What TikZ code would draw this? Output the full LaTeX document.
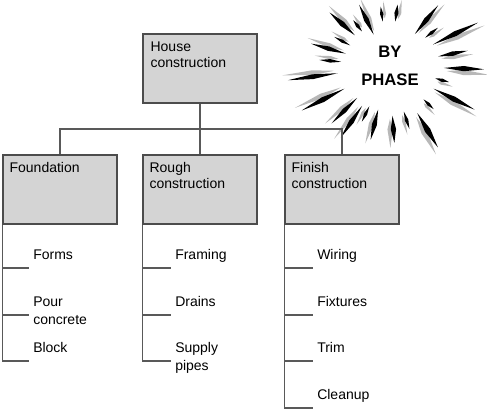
\documentclass[tikz,border=0pt]{standalone}
\usepackage{fontspec}
\setmainfont{Liberation Sans}
\newcommand{\twolines}[2]{\vtop{\hbox{#1}\hbox{#2}}}
\tikzset{
  wbsbox/.style={draw=black!70, fill=black!17, line width=1pt, minimum width=85.5pt, minimum height=51.75pt, inner sep=0pt},
  boxtext/.style={anchor=base west, inner sep=0pt, font=\fontsize{10.5}{12}\selectfont},
  leaf/.style={anchor=base west, inner sep=0pt, font=\fontsize{10.5}{13.5}\selectfont},
  link/.style={draw=black!65, line width=1.1pt},
  spike/.style={fill=black},
  spikeshade/.style={fill=black!28}
}
\begin{document}
\begin{tikzpicture}[x=0.75pt,y=-0.75pt]
	\useasboundingbox (0,0) rectangle (487,409);
	% Stella "BY PHASE"
	\coordinate (burst) at (389,66);
	\foreach \a/\ri/\ro/\w in {222/46/80/2.4, 244/35/68/2.8, 232/44/58/2, 262/45/60/1.8, 278/45/62/2.2,
		309/41/78/2.4, 322/46/62/1.8, 334/49/99/2, 349/50/80/2, 2/55/95/2, 15/48/62/1.8,
		27/50/96/2.1, 44/48/62/1.7, 59/55/95/2.3, 72/48/66/1.8, 86/50/77/2.4, 104/45/76/2.4,
		116/45/62/1.8, 124/48/86/2.1, 135/45/81/2.1, 153/50/98/2, 172/52/102/1.8, 185/48/70/1.7,
		196/45/81/2.1, 208/44/62/1.7} {
		\fill[spikeshade, shift={(burst)}] ({\a+3}:{\ri+3}) -- ({\a+3+\w}:{(\ri+\ro)/2}) -- ({\a+3}:{\ro+5}) -- ({\a+3-\w}:{(\ri+\ro)/2}) -- cycle;
		\fill[spike, shift={(burst)}] (\a:\ri) -- ({\a+\w}:{(\ri+\ro)/2}) -- (\a:\ro) -- ({\a-\w}:{(\ri+\ro)/2}) -- cycle;
	}
	\node[align=center, font=\fontsize{12.5}{21}\selectfont\bfseries] (phase) at (390,66) {BY\\PHASE};
	% Scatole
	\node[wbsbox] (house) at (200,68.5) {};
	\node[wbsbox] (fnd) at (60,189.5) {};
	\node[wbsbox] (rough) at (200,189.5) {};
	\node[wbsbox] (fin) at (342,189.5) {};
	\node[boxtext] (houset) at ([shift={(8,18.5)}]house.north west) {\twolines{House}{construction}};
	\node[boxtext] (fndt) at ([shift={(7,18.5)}]fnd.north west) {Foundation};
	\node[boxtext] (rought) at ([shift={(7,18.5)}]rough.north west) {\twolines{Rough}{construction}};
	\node[boxtext] (fint) at ([shift={(7,18.5)}]fin.north west) {\twolines{Finish}{construction}};
	% Collegamenti
	\coordinate (bus) at (200,129);
	\draw[link] (house.south) -- (rough.north);
	\draw[link] (fnd.north) |- (bus) -| (fin.north);
	% Foglie
	\node[leaf] (forms) at (33,260) {Forms};
	\node[leaf] (pour) at (33,307) {\twolines{Pour}{concrete}};
	\node[leaf] (block) at (33,353) {Block};
	\node[leaf] (framing) at (175,260) {Framing};
	\node[leaf] (drains) at (175,307) {Drains};
	\node[leaf] (supply) at (175,353) {\twolines{Supply}{pipes}};
	\node[leaf] (wiring) at (317,260) {Wiring};
	\node[leaf] (fixtures) at (317,307) {Fixtures};
	\node[leaf] (trim) at (317,353) {Trim};
	\node[leaf] (cleanup) at (317,400) {Cleanup};
	\foreach \n in {forms,pour,block,framing,drains,supply,wiring,fixtures,trim,cleanup}
		\coordinate (\n-end) at ([shift={(-4,8)}]\n.base west);
	\draw[link] (fnd.south west) |- (block-end);
	\draw[link] (fnd.south west |- forms-end) -- (forms-end);
	\draw[link] (fnd.south west |- pour-end) -- (pour-end);
	\draw[link] (rough.south west) |- (supply-end);
	\draw[link] (rough.south west |- framing-end) -- (framing-end);
	\draw[link] (rough.south west |- drains-end) -- (drains-end);
	\draw[link] (fin.south west) |- (cleanup-end);
	\draw[link] (fin.south west |- wiring-end) -- (wiring-end);
	\draw[link] (fin.south west |- fixtures-end) -- (fixtures-end);
	\draw[link] (fin.south west |- trim-end) -- (trim-end);
\end{tikzpicture}
\end{document}
